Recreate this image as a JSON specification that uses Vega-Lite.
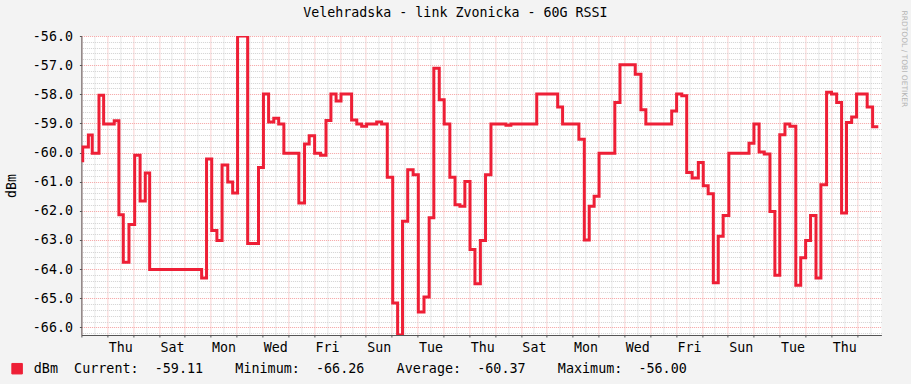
{
  "$schema": "https://vega.github.io/schema/vega-lite/v6.json",
  "width": 800,
  "height": 299,
  "autosize": "none",
  "padding": {"left": 81.4, "top": 36, "right": 29.6, "bottom": 49},
  "background": "#F3F3F3",
  "title": {"text": "Velehradska - link Zvonicka - 60G RSSI", "font": "DejaVu Sans Mono", "fontSize": 13.3, "fontWeight": "normal", "color": "#000000", "anchor": "middle", "frame": "group", "dx": -26, "offset": -9},
  "data": {"values": [
    {"d":0,"v":-60.28,"s":"dBm"},{"d":0.05,"v":-59.81,"s":"dBm"},{"d":0.27,"v":-59.40,"s":"dBm"},{"d":0.42,"v":-60.02,"s":"dBm"},{"d":0.68,"v":-58.03,"s":"dBm"},{"d":0.86,"v":-59.02,"s":"dBm"},{"d":1.27,"v":-58.91,"s":"dBm"},{"d":1.45,"v":-62.13,"s":"dBm"},{"d":1.62,"v":-63.76,"s":"dBm"},{"d":1.84,"v":-62.47,"s":"dBm"},{"d":2.06,"v":-60.09,"s":"dBm"},{"d":2.27,"v":-61.66,"s":"dBm"},{"d":2.47,"v":-60.70,"s":"dBm"},{"d":2.64,"v":-64.01,"s":"dBm"},{"d":4.65,"v":-64.30,"s":"dBm"},{"d":4.84,"v":-60.22,"s":"dBm"},{"d":5.04,"v":-62.67,"s":"dBm"},{"d":5.24,"v":-63.02,"s":"dBm"},{"d":5.44,"v":-60.43,"s":"dBm"},{"d":5.66,"v":-61.01,"s":"dBm"},{"d":5.85,"v":-61.39,"s":"dBm"},{"d":6.04,"v":-56.00,"s":"dBm"},{"d":6.43,"v":-63.12,"s":"dBm"},{"d":6.85,"v":-60.51,"s":"dBm"},{"d":7.04,"v":-57.99,"s":"dBm"},{"d":7.24,"v":-58.95,"s":"dBm"},{"d":7.44,"v":-58.82,"s":"dBm"},{"d":7.63,"v":-59.02,"s":"dBm"},{"d":7.83,"v":-60.02,"s":"dBm"},{"d":8.41,"v":-61.73,"s":"dBm"},{"d":8.63,"v":-59.71,"s":"dBm"},{"d":8.81,"v":-59.42,"s":"dBm"},{"d":9.02,"v":-60.02,"s":"dBm"},{"d":9.25,"v":-60.09,"s":"dBm"},{"d":9.46,"v":-58.90,"s":"dBm"},{"d":9.65,"v":-57.99,"s":"dBm"},{"d":9.85,"v":-58.23,"s":"dBm"},{"d":10.04,"v":-57.99,"s":"dBm"},{"d":10.45,"v":-58.88,"s":"dBm"},{"d":10.65,"v":-59.02,"s":"dBm"},{"d":10.84,"v":-59.10,"s":"dBm"},{"d":11.03,"v":-59.02,"s":"dBm"},{"d":11.42,"v":-58.95,"s":"dBm"},{"d":11.61,"v":-59.02,"s":"dBm"},{"d":11.83,"v":-60.85,"s":"dBm"},{"d":12.04,"v":-65.16,"s":"dBm"},{"d":12.23,"v":-66.26,"s":"dBm"},{"d":12.42,"v":-62.36,"s":"dBm"},{"d":12.62,"v":-60.59,"s":"dBm"},{"d":12.83,"v":-60.76,"s":"dBm"},{"d":13.03,"v":-65.47,"s":"dBm"},{"d":13.25,"v":-64.96,"s":"dBm"},{"d":13.45,"v":-62.24,"s":"dBm"},{"d":13.63,"v":-57.11,"s":"dBm"},{"d":13.84,"v":-58.19,"s":"dBm"},{"d":14.03,"v":-59.02,"s":"dBm"},{"d":14.25,"v":-60.85,"s":"dBm"},{"d":14.45,"v":-61.79,"s":"dBm"},{"d":14.64,"v":-61.84,"s":"dBm"},{"d":14.83,"v":-60.99,"s":"dBm"},{"d":15.03,"v":-63.33,"s":"dBm"},{"d":15.22,"v":-64.50,"s":"dBm"},{"d":15.43,"v":-63.02,"s":"dBm"},{"d":15.63,"v":-60.76,"s":"dBm"},{"d":15.84,"v":-59.02,"s":"dBm"},{"d":16.42,"v":-59.06,"s":"dBm"},{"d":16.61,"v":-59.02,"s":"dBm"},{"d":17.61,"v":-57.99,"s":"dBm"},{"d":18.42,"v":-58.44,"s":"dBm"},{"d":18.61,"v":-59.02,"s":"dBm"},{"d":19.24,"v":-59.54,"s":"dBm"},{"d":19.45,"v":-63.00,"s":"dBm"},{"d":19.64,"v":-61.84,"s":"dBm"},{"d":19.83,"v":-61.50,"s":"dBm"},{"d":20.02,"v":-60.02,"s":"dBm"},{"d":20.63,"v":-58.28,"s":"dBm"},{"d":20.83,"v":-56.99,"s":"dBm"},{"d":21.42,"v":-57.31,"s":"dBm"},{"d":21.64,"v":-58.53,"s":"dBm"},{"d":21.83,"v":-59.02,"s":"dBm"},{"d":22.83,"v":-58.57,"s":"dBm"},{"d":23.02,"v":-57.99,"s":"dBm"},{"d":23.22,"v":-58.05,"s":"dBm"},{"d":23.41,"v":-60.68,"s":"dBm"},{"d":23.62,"v":-60.87,"s":"dBm"},{"d":23.86,"v":-60.34,"s":"dBm"},{"d":24.05,"v":-61.14,"s":"dBm"},{"d":24.24,"v":-61.41,"s":"dBm"},{"d":24.44,"v":-64.47,"s":"dBm"},{"d":24.63,"v":-62.87,"s":"dBm"},{"d":24.82,"v":-62.16,"s":"dBm"},{"d":25.04,"v":-60.02,"s":"dBm"},{"d":25.82,"v":-59.68,"s":"dBm"},{"d":26.01,"v":-59.02,"s":"dBm"},{"d":26.21,"v":-59.98,"s":"dBm"},{"d":26.41,"v":-60.05,"s":"dBm"},{"d":26.63,"v":-62.02,"s":"dBm"},{"d":26.82,"v":-64.21,"s":"dBm"},{"d":27.01,"v":-59.39,"s":"dBm"},{"d":27.21,"v":-59.02,"s":"dBm"},{"d":27.40,"v":-59.10,"s":"dBm"},{"d":27.63,"v":-64.55,"s":"dBm"},{"d":27.82,"v":-63.61,"s":"dBm"},{"d":28.01,"v":-63.02,"s":"dBm"},{"d":28.20,"v":-62.16,"s":"dBm"},{"d":28.41,"v":-64.30,"s":"dBm"},{"d":28.60,"v":-61.10,"s":"dBm"},{"d":28.82,"v":-57.93,"s":"dBm"},{"d":29.01,"v":-57.99,"s":"dBm"},{"d":29.21,"v":-58.28,"s":"dBm"},{"d":29.40,"v":-62.07,"s":"dBm"},{"d":29.59,"v":-58.97,"s":"dBm"},{"d":29.79,"v":-58.78,"s":"dBm"},{"d":29.98,"v":-57.99,"s":"dBm"},{"d":30.39,"v":-58.44,"s":"dBm"},{"d":30.60,"v":-59.11,"s":"dBm"},{"d":30.82,"v":-59.11,"s":"dBm"}
  ]},
  "layer": [
    {
      "mark": {"type": "line", "opacity": 0, "interpolate": "step-after"},
      "encoding": {
        "x": {"field": "d", "type": "quantitative",
          "scale": {"domain": [0, 30.94], "nice": false, "zero": false},
          "axis": {"orient": "bottom", "title": null,
            "values": [0.5,1.5,2.5,3.5,4.5,5.5,6.5,7.5,8.5,9.5,10.5,11.5,12.5,13.5,14.5,15.5,16.5,17.5,18.5,19.5,20.5,21.5,22.5,23.5,24.5,25.5,26.5,27.5,28.5,29.5,30.5],
            "grid": true, "gridColor": "#D2D2D2", "gridDash": [1, 1], "gridWidth": 1,
            "ticks": false, "domain": false,
            "labelExpr": "floor(datum.value) % 2 == 1 ? ['Wed','Thu','Fri','Sat','Sun','Mon','Tue'][floor(datum.value) % 7] : ''",
            "labelOverlap": false, "labelFlush": false, "labelFont": "DejaVu Sans Mono", "labelFontSize": 13.3, "labelColor": "#000000", "labelPadding": 5}},
        "y": {"field": "v", "type": "quantitative",
          "scale": {"domain": [-66.26, -56], "nice": false, "zero": false},
          "axis": {"orient": "right",
            "values": [-66.2,-65.8,-65.6,-65.4,-65.2,-64.8,-64.6,-64.4,-64.2,-63.8,-63.6,-63.4,-63.2,-62.8,-62.6,-62.4,-62.2,-61.8,-61.6,-61.4,-61.2,-60.8,-60.6,-60.4,-60.2,-59.8,-59.6,-59.4,-59.2,-58.8,-58.6,-58.4,-58.2,-57.8,-57.6,-57.4,-57.2,-56.8,-56.6,-56.4,-56.2],
            "grid": true, "gridColor": "#D2D2D2", "gridDash": [1, 1], "gridWidth": 1,
            "ticks": false, "domain": false, "labels": false,
            "title": "RRDTOOL / TOBI OETIKER", "titleAngle": 90, "titleFont": "DejaVu Sans", "titleFontSize": 7.5, "titleFontWeight": "normal", "titleColor": "#B4B4B4",
            "titleX": 22, "titleY": -26, "titleAlign": "left", "titleBaseline": "middle"}}
      }
    },
    {
      "mark": {"type": "line", "interpolate": "step-after", "strokeWidth": 3, "strokeJoin": "miter", "clip": true},
      "encoding": {
        "x": {"field": "d", "type": "quantitative",
          "axis": {"orient": "bottom", "title": null,
            "values": [0,1,2,3,4,5,6,7,8,9,10,11,12,13,14,15,16,17,18,19,20,21,22,23,24,25,26,27,28,29,30],
            "grid": true, "gridColor": "#F5A3A3", "gridDash": [1, 1], "gridWidth": 1,
            "ticks": true, "tickSize": 2, "tickColor": "#555555", "domain": true, "domainColor": "#555555", "labels": false}},
        "y": {"field": "v", "type": "quantitative",
          "axis": {"orient": "left",
            "values": [-66,-65,-64,-63,-62,-61,-60,-59,-58,-57,-56],
            "grid": true, "gridColor": "#F5A3A3", "gridDash": [1, 1], "gridWidth": 1,
            "ticks": true, "tickSize": 2, "tickColor": "#555555", "domain": true, "domainColor": "#555555",
            "labelExpr": "(datum.value < 0 ? '-' : '') + format(abs(datum.value), '.1f')",
            "labelFont": "DejaVu Sans Mono", "labelFontSize": 13.3, "labelColor": "#000000", "labelPadding": 7,
            "title": "dBm", "titleFont": "DejaVu Sans Mono", "titleFontSize": 13.3, "titleFontWeight": "normal", "titleColor": "#000000",
            "titleAngle": -90, "titleX": -70, "titleY": 149.5, "titleAlign": "center", "titleBaseline": "middle"}},
        "color": {"field": "s", "type": "nominal",
          "scale": {"domain": ["dBm"], "range": ["#EE1F36"]},
          "legend": {"orient": "none", "legendX": -71, "legendY": 326, "title": null, "padding": 0,
            "symbolType": "square", "symbolSize": 110, "symbolStrokeColor": "#000000", "symbolStrokeWidth": 1, "symbolFillColor": "#EE1F36",
            "labelOffset": 10, "labelLimit": 2000,
            "labelFont": "DejaVu Sans Mono", "labelFontSize": 13.4, "labelColor": "#000000",
            "labelExpr": "'dBm\u00a0\u00a0Current:\u00a0\u00a0-59.11\u00a0\u00a0\u00a0\u00a0Minimum:\u00a0\u00a0-66.26\u00a0\u00a0\u00a0\u00a0Average:\u00a0\u00a0-60.37\u00a0\u00a0\u00a0\u00a0Maximum:\u00a0\u00a0-56.00'",
            "encode": {"symbols": {
              "enter": {"fill": {"value": "#EE1F36"}, "stroke": {"value": "#000000"}, "strokeWidth": {"value": 1}},
              "update": {"fill": {"value": "#EE1F36"}, "stroke": {"value": "#000000"}, "strokeWidth": {"value": 1}, "opacity": {"value": 1}, "fillOpacity": {"value": 1}, "strokeOpacity": {"value": 1}}}}}}
      }
    }
  ],
  "resolve": {"axis": {"x": "independent", "y": "independent"}},
  "config": {"view": {"stroke": null, "fill": "#FFFFFF"}, "font": "DejaVu Sans Mono"}
}
